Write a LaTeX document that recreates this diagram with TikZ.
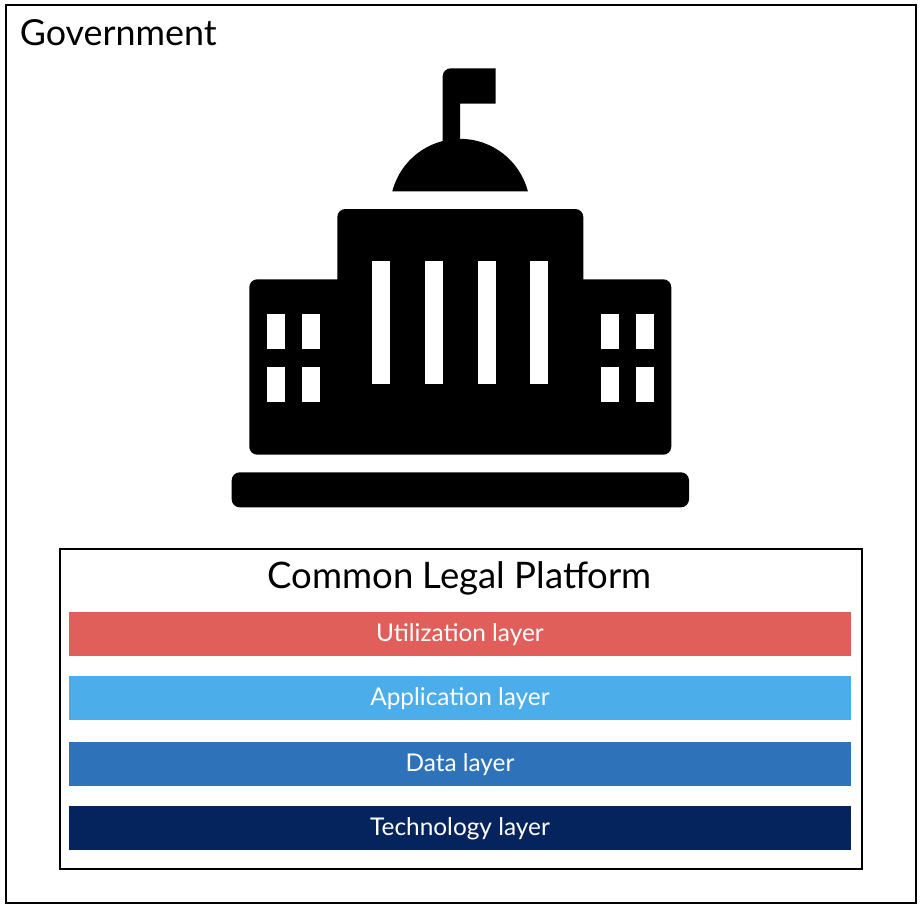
\documentclass[tikz,border=0pt]{standalone}
\usepackage{fontspec}
\setmainfont{Lato}
\definecolor{utilc}{HTML}{E05F5A}
\definecolor{appc}{HTML}{4BADEA}
\definecolor{datac}{HTML}{2E72BA}
\definecolor{techc}{HTML}{05235C}
\tikzset{
  frame/.style={draw=black,line width=1.5pt,fill=white},
  icon/.style={fill=black,draw=none},
  hole/.style={fill=white,draw=none},
  bar/.style={draw=none,minimum width=586.5pt,minimum height=33pt,inner sep=0pt,text height=15.7pt,text depth=4pt,text=white,font=\fontsize{18.3}{22}\selectfont,anchor=center},
  title/.style={inner sep=0pt,font=\fontsize{27.4}{32}\selectfont,text=black}
}
\begin{document}
\begin{tikzpicture}[x=0.75pt,y=-0.75pt]
\useasboundingbox (0,0) rectangle (922,908);
\fill[white] (0,0) rectangle (922,908);
\draw[frame] (6,5) rectangle (916,903);
\node[title,anchor=west,font=\fontsize{26.9}{32}\selectfont] (gov) at (19.5,33) {Government};
% icon
\fill[icon] (442.7,150) -- (442.7,76.3) to[out=90,in=180] (450.7,68.3) -- (495.7,68.3) -- (495.7,103.7) -- (460,103.7) -- (460,150) -- cycle;
\fill[icon] (392.3,191.3) arc[start angle=194.5,end angle=270,radius=70] arc[start angle=270,end angle=345.5,radius=70] -- cycle;
\fill[icon,rounded corners=6pt] (249.3,279.3) rectangle (671.3,454.7);
\fill[icon,rounded corners=6pt] (337.3,209) rectangle (583.3,400);
\fill[icon,rounded corners=6pt] (231.7,472.3) rectangle (689,507.3);
\foreach \xa/\xb in {372.3/390,425/442.7,477.7/495.7,530.3/548.3}
  \fill[hole] (\xa,261.3) rectangle (\xb,384.3);
\foreach \xa/\xb in {266.7/284.7,302/319.7,600.7/618.7,636/653.7}{
  \fill[hole] (\xa,314.3) rectangle (\xb,349.3);
  \fill[hole] (\xa,367) rectangle (\xb,402);
}
% platform
\draw[frame] (60,549) rectangle (862,869);
\node[title] (clp) at (459.5,578) {Common Legal Platform};
\node[bar,fill=utilc] (util) at (460,634) {Utilization layer};
\node[bar,fill=appc] (app) at (460,698) {Application layer};
\node[bar,fill=datac] (data) at (460,764) {Data layer};
\node[bar,fill=techc] (tech) at (460,828) {Technology layer};
\end{tikzpicture}
\end{document}
